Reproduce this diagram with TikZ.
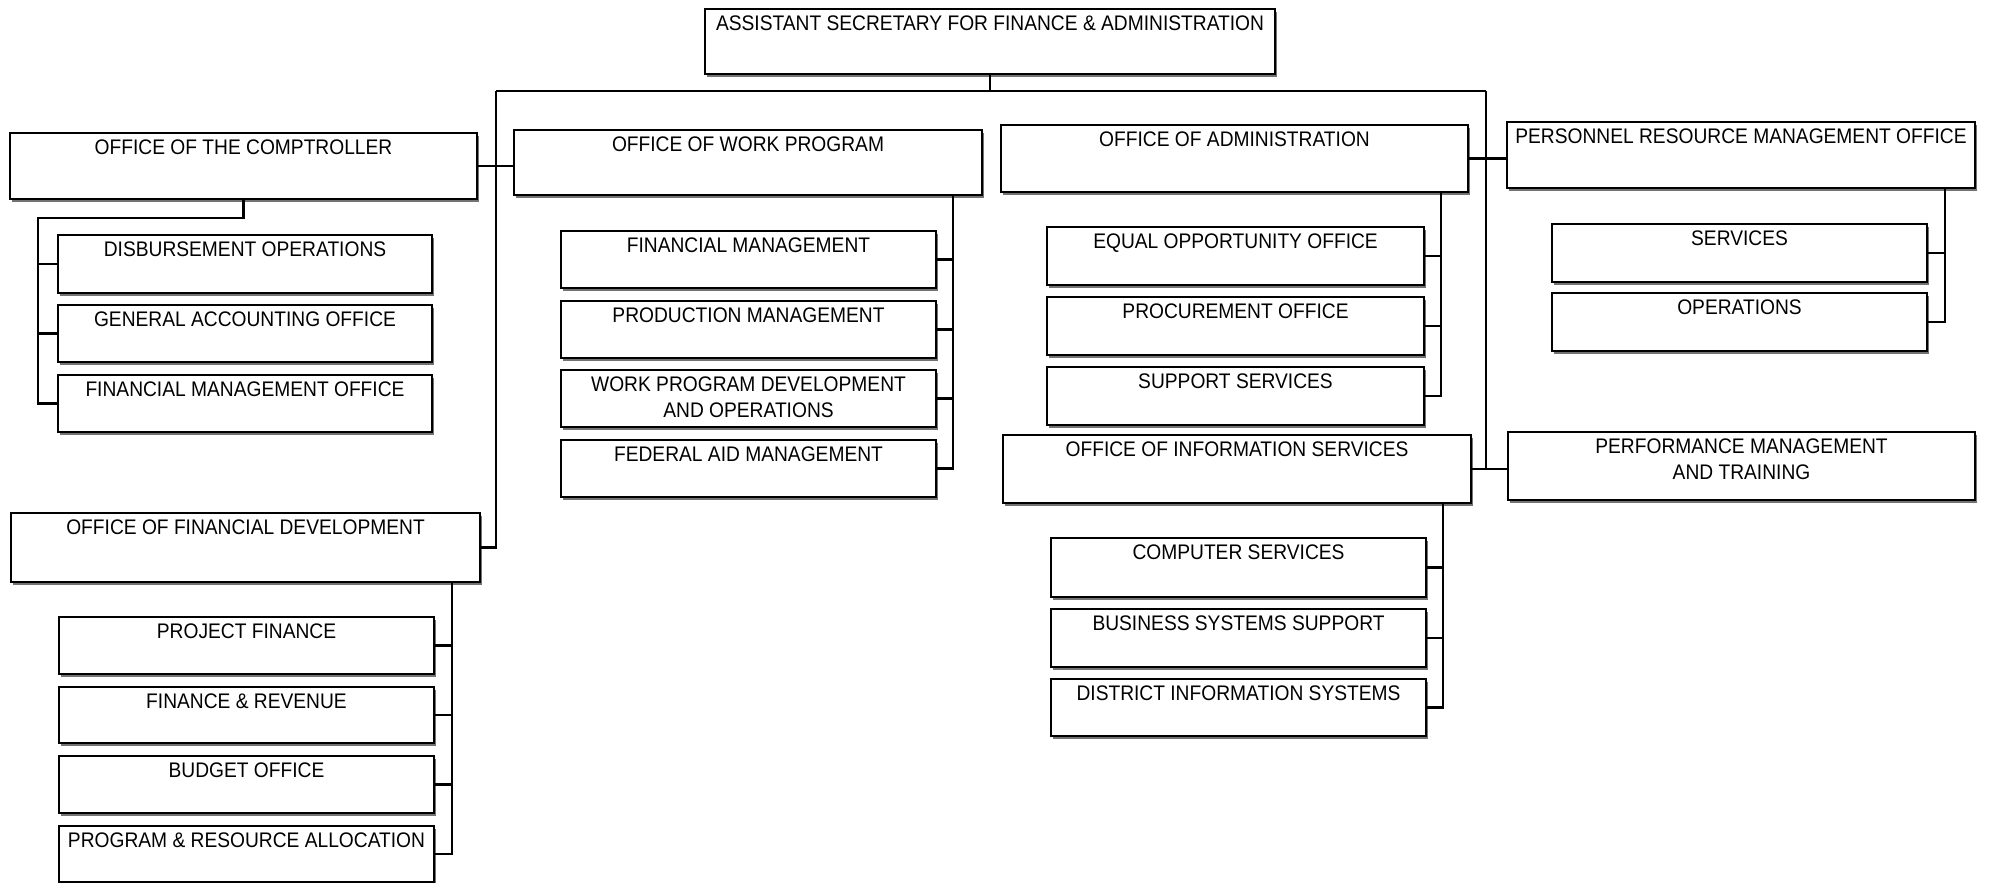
\documentclass[tikz,border=0pt]{standalone}
\usepackage{fontspec}
\newfontfamily\orgfont[FakeStretch=0.91]{Liberation Sans}
\usetikzlibrary{shadows}

\tikzset{
  unitbox/.style={draw, line width=0.6pt, fill=white, inner sep=0pt,
    drop shadow={shadow xshift=0.6pt, shadow yshift=-0.9pt, fill=black!55, opacity=1}},
  boxtext/.style={anchor=north, inner sep=0pt, yshift=-0.075cm, align=center,
    font=\orgfont\fontsize{6}{7.4}\selectfont},
  link/.style={line width=0.6pt}
}

% name, left, top, right, bottom, caption
\newcommand\orgbox[6]{%
  \node[unitbox, minimum width={(#4-#2)*0.01cm}, minimum height={(#5-#3)*0.01cm},
        label={[boxtext]north:{#6}}] (#1) at ({(#2+#4)/2},{(#3+#5)/2}) {};}

\begin{document}
\begin{tikzpicture}[x=0.01cm, y=-0.01cm]
\fill[white] (0,0) rectangle (1991,883);
\useasboundingbox (0,0) rectangle (1991,883);

% head of the division
\orgbox{head}{705}{9}{1275}{74}{ASSISTANT SECRETARY FOR FINANCE \& ADMINISTRATION}

% offices
\orgbox{comp}{10}{133}{477}{199}{OFFICE OF THE COMPTROLLER}
\orgbox{wp}{514}{130}{982}{195}{OFFICE OF WORK PROGRAM}
\orgbox{admin}{1001}{125}{1468}{192}{OFFICE OF ADMINISTRATION}
\orgbox{pers}{1507}{122}{1975}{188}{PERSONNEL RESOURCE MANAGEMENT OFFICE}
\orgbox{findev}{11}{513}{480}{582}{OFFICE OF FINANCIAL DEVELOPMENT}
\orgbox{info}{1003}{435}{1471}{503}{OFFICE OF INFORMATION SERVICES}
\orgbox{perf}{1508}{432}{1975}{500}{PERFORMANCE MANAGEMENT\\AND TRAINING}

% comptroller units
\orgbox{disb}{58}{235}{432}{293}{DISBURSEMENT OPERATIONS}
\orgbox{gao}{58}{305}{432}{362}{GENERAL ACCOUNTING OFFICE}
\orgbox{fmo}{58}{375}{432}{432}{FINANCIAL MANAGEMENT OFFICE}

% work program units
\orgbox{fm}{561}{231}{936}{288}{FINANCIAL MANAGEMENT}
\orgbox{pm}{561}{301}{936}{358}{PRODUCTION MANAGEMENT}
\orgbox{wpd}{561}{370}{936}{427}{WORK PROGRAM DEVELOPMENT\\AND OPERATIONS}
\orgbox{fam}{561}{440}{936}{497}{FEDERAL AID MANAGEMENT}

% administration units
\orgbox{eoo}{1047}{227}{1424}{285}{EQUAL OPPORTUNITY OFFICE}
\orgbox{proc}{1047}{297}{1424}{355}{PROCUREMENT OFFICE}
\orgbox{supp}{1047}{367}{1424}{425}{SUPPORT SERVICES}

% personnel units
\orgbox{serv}{1552}{224}{1927}{282}{SERVICES}
\orgbox{ops}{1552}{293}{1927}{351}{OPERATIONS}

% information services units
\orgbox{cs}{1051}{538}{1426}{597}{COMPUTER SERVICES}
\orgbox{bss}{1051}{609}{1426}{667}{BUSINESS SYSTEMS SUPPORT}
\orgbox{dis}{1051}{679}{1426}{736}{DISTRICT INFORMATION SYSTEMS}

% financial development units
\orgbox{pf}{59}{617}{434}{674}{PROJECT FINANCE}
\orgbox{fr}{59}{687}{434}{743}{FINANCE \& REVENUE}
\orgbox{bud}{59}{756}{434}{813}{BUDGET OFFICE}
\orgbox{pra}{59}{826}{434}{882}{PROGRAM \& RESOURCE ALLOCATION}

% trunk coordinates
\coordinate (busL) at (496,91);
\coordinate (busR) at (1486,91);
\coordinate (ctTurn) at (38,218);

% main bus and office links
\draw[link] (head.south) -- (head.south |- busL);
\draw[link] (busL) -- (busR);
\draw[link] (busL) |- (findev.east);
\draw[link] (busR) |- (info.east);
\draw[link] (comp.east) -- (comp.east -| wp.west);
\draw[link] (admin.east) -- (admin.east -| pers.west);
\draw[link] (info.east) -- (info.east -| perf.west);

% comptroller branch
\draw[link] (comp.south) |- (ctTurn) -- (ctTurn |- fmo.west) -- (fmo.west);
\draw[link] (ctTurn |- disb.west) -- (disb.west);
\draw[link] (ctTurn |- gao.west) -- (gao.west);

% work program branch
\draw[link] (wp.south -| 953,0) -- (953,0 |- fam.east) -- (fam.east);
\foreach \n in {fm,pm,wpd} \draw[link] (\n.east) -- (\n.east -| 953,0);

% administration branch
\draw[link] (admin.south -| 1441,0) -- (1441,0 |- supp.east) -- (supp.east);
\foreach \n in {eoo,proc} \draw[link] (\n.east) -- (\n.east -| 1441,0);

% personnel branch
\draw[link] (pers.south -| 1945,0) -- (1945,0 |- ops.east) -- (ops.east);
\draw[link] (serv.east) -- (serv.east -| 1945,0);

% information services branch
\draw[link] (info.south -| 1443,0) -- (1443,0 |- dis.east) -- (dis.east);
\foreach \n in {cs,bss} \draw[link] (\n.east) -- (\n.east -| 1443,0);

% financial development branch
\draw[link] (findev.south -| 452,0) -- (452,0 |- pra.east) -- (pra.east);
\foreach \n in {pf,fr,bud} \draw[link] (\n.east) -- (\n.east -| 452,0);
\end{tikzpicture}
\end{document}
